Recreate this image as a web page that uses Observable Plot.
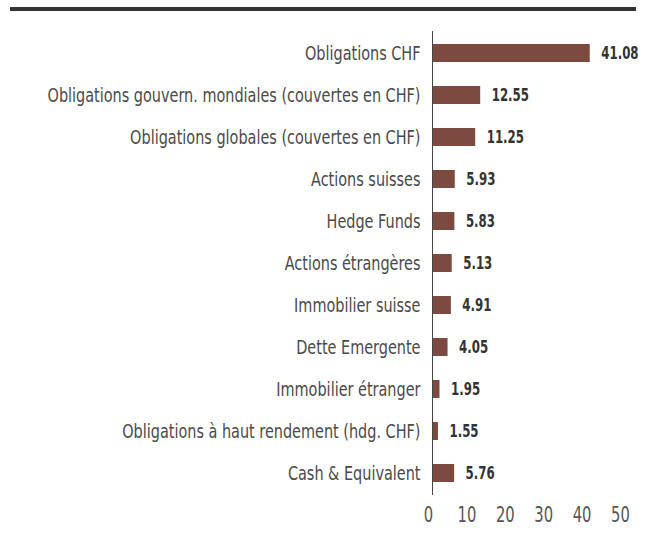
<!DOCTYPE html>
<html>
<head>
<meta charset="utf-8">
<script src="https://cdn.jsdelivr.net/npm/d3@7"></script>
<script src="https://cdn.jsdelivr.net/npm/@observablehq/plot@0.6"></script>
<style>
  html, body { margin: 0; padding: 0; background: #fff; }
  #wrap { position: relative; width: 648px; height: 534px; }
  #topline { position: absolute; left: 10px; top: 7px; width: 626px; height: 4px; background: #333; }
  #chart { position: absolute; left: 0; top: 0; }
</style>
</head>
<body>
<div id="wrap">
  <div id="topline"></div>
  <div id="chart"></div>
</div>
<script>
const categories = [
  "Obligations CHF",
  "Obligations gouvern. mondiales (couvertes en CHF)",
  "Obligations globales (couvertes en CHF)",
  "Actions suisses",
  "Hedge Funds",
  "Actions étrangères",
  "Immobilier suisse",
  "Dette Emergente",
  "Immobilier étranger",
  "Obligations à haut rendement (hdg. CHF)",
  "Cash & Equivalent"
];
const values = [41.08, 12.55, 11.25, 5.93, 5.83, 5.13, 4.91, 4.05, 1.95, 1.55, 5.76];
const xTicks = [0, 10, 20, 30, 40, 50];

const data = categories.map((c, i) => ({category: c, value: values[i]}));
const font = '"Liberation Sans Narrow", "DejaVu Sans Condensed", sans-serif';

const chart = Plot.plot({
  width: 648,
  height: 534,
  marginLeft: 432,
  marginRight: 24,
  marginTop: 31,
  marginBottom: 39,
  style: {fontFamily: font, background: "transparent", overflow: "visible"},
  x: {domain: [0, 50], ticks: xTicks, line: true, label: null},
  y: {domain: categories, paddingInner: 0.57, paddingOuter: 0.27, label: null},
  marks: [
    Plot.axisX({ticks: xTicks, tickSize: 0, tickPadding: 12, fontSize: 21, fill: "#555", label: null, dx: -4}),
    Plot.axisY({tickSize: 0, tickPadding: 12, fontSize: 19, fill: "#4a4a4a", label: null}),
    Plot.barX(data, {x: "value", y: "category", fill: "#7d4a40"}),
    Plot.ruleX([0], {stroke: "#444", strokeWidth: 1}),
    Plot.text(data, {x: "value", y: "category", text: d => d.value.toFixed(2), dx: 11, textAnchor: "start", fontSize: 17.5, fontWeight: "bold", fill: "#333"})
  ]
});
document.getElementById("chart").appendChild(chart);

// narrow the glyphs to mimic the condensed typeface of the original
// (each text is positioned by its own translate, so a trailing horizontal scale keeps the anchor fixed)
function squeeze(selector, s) {
  chart.querySelectorAll(selector).forEach(t => {
    const tr = t.getAttribute("transform") || "";
    t.setAttribute("transform", `${tr} scale(${s},1)`);
  });
}
squeeze('g[aria-label="y-axis tick label"] text', 0.845);
squeeze('g[aria-label="x-axis tick label"] text', 0.78);
squeeze('g[aria-label="text"] text', 0.75);
</script>
</body>
</html>
